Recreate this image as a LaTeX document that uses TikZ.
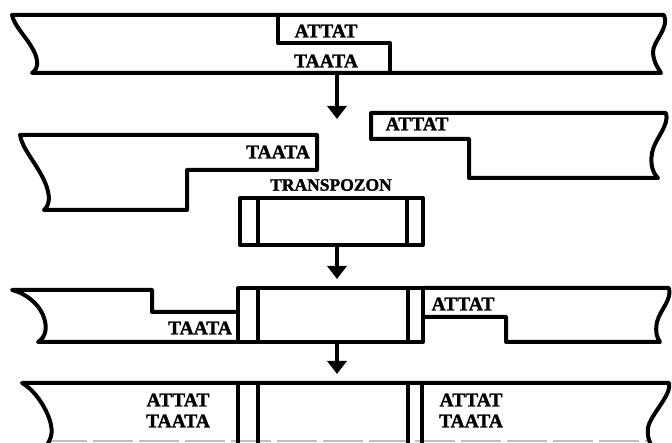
\documentclass[tikz,border=0pt]{standalone}
\usepackage{fontspec}
\setmainfont{Liberation Serif}
\newfontfamily\seqfont{Liberation Serif Bold}[FakeBold=1.5]
\usetikzlibrary{arrows.meta}
\begin{document}
\begin{tikzpicture}[x=1pt,y=-1pt,
  strand/.style={line width=4pt,line join=round,line cap=round},
  seq/.style={inner sep=0pt,font=\fontsize{19.5}{19.5}\seqfont},
  tlabel/.style={inner sep=0pt,font=\fontsize{17.5}{17.5}\seqfont},
  flow/.style={line width=4pt,-{Triangle[width=19pt,length=13pt]}},
  cutline/.style={line width=1.5pt,gray!50,dash pattern=on 40pt off 6pt}]
\useasboundingbox (0,0) rectangle (672,443);
% ---------- row 1 ----------
\draw[strand] (12,15) -- (664,15)
  .. controls (670,28) and (652,42) .. (653,53)
  .. controls (654,63) and (658,68) .. (661,73)
  -- (32,73)
  .. controls (40,68) and (38,57) .. (31,46)
  .. controls (25,36) and (14,25) .. (12,15) -- cycle;
\draw[strand] (278,15) -- (278,43) -- (390,43) -- (390,73);
\node[seq] (r1a) at (326,31) {ATTAT};
\node[seq] (r1t) at (326,61) {TAATA};
% ---------- row 2 ----------
\draw[strand] (20,135) -- (317,135) -- (317,170) -- (187,170) -- (187,210) -- (44,210)
  .. controls (52,203) and (49,190) .. (43,178)
  .. controls (35,162) and (22,148) .. (20,135) -- cycle;
\node[seq] (r2t) at (278,152) {TAATA};
\draw[strand] (371,113) -- (666,113)
  .. controls (670,125) and (654,140) .. (652,153)
  .. controls (650,165) and (653,173) .. (658,178)
  -- (469,178) -- (469,139) -- (371,139) -- cycle;
\node[seq] (r2a) at (417,124) {ATTAT};
% transposon
\node[tlabel] (tn) at (331,185) {TRANSPOZON};
\draw[strand] (240,198) rectangle (423,245);
\draw[strand] (258,198) -- (258,245);
\draw[strand] (407,198) -- (407,245);
% ---------- row 3 ----------
\draw[strand] (238,312) -- (152,312) -- (152,290) -- (12,290)
  .. controls (25,293) and (38,303) .. (43,315)
  .. controls (48,327) and (46,337) .. (38,342)
  -- (238,342);
\draw[strand] (238,288) rectangle (423,342);
\draw[strand] (258,288) -- (258,342);
\draw[strand] (408,288) -- (408,342);
\draw[strand] (423,288) -- (669,288)
  .. controls (672,300) and (660,310) .. (657,322)
  .. controls (655,332) and (657,338) .. (660,342)
  -- (506,342) -- (506,317) -- (423,317);
\node[seq] (r3t) at (200,328) {TAATA};
\node[seq] (r3a) at (463,304) {ATTAT};
% ---------- row 4 ----------
\draw[cutline] (47,441) -- (651,441);
\draw[strand] (47,445)
  .. controls (50,440) and (53,435) .. (51,425)
  .. controls (48,410) and (35,390) .. (22,383)
  -- (669,383)
  .. controls (672,395) and (650,415) .. (648,428)
  .. controls (647,436) and (649,440) .. (651,445);
\foreach \xx in {238,258,408,422} \draw[strand] (\xx,383) -- (\xx,446);
\node[seq] (r4la) at (178,400) {ATTAT};
\node[seq] (r4lt) at (178,421) {TAATA};
\node[seq] (r4ra) at (471,400) {ATTAT};
\node[seq] (r4rt) at (471,421) {TAATA};
% ---------- arrows ----------
\coordinate (a1s) at (337,73);  \coordinate (a1e) at (337,119);
\coordinate (a2s) at (337,245); \coordinate (a2e) at (337,279);
\coordinate (a3s) at (337,342); \coordinate (a3e) at (337,374);
\draw[flow] (a1s) -- (a1e);
\draw[flow] (a2s) -- (a2e);
\draw[flow] (a3s) -- (a3e);
\end{tikzpicture}
\end{document}
